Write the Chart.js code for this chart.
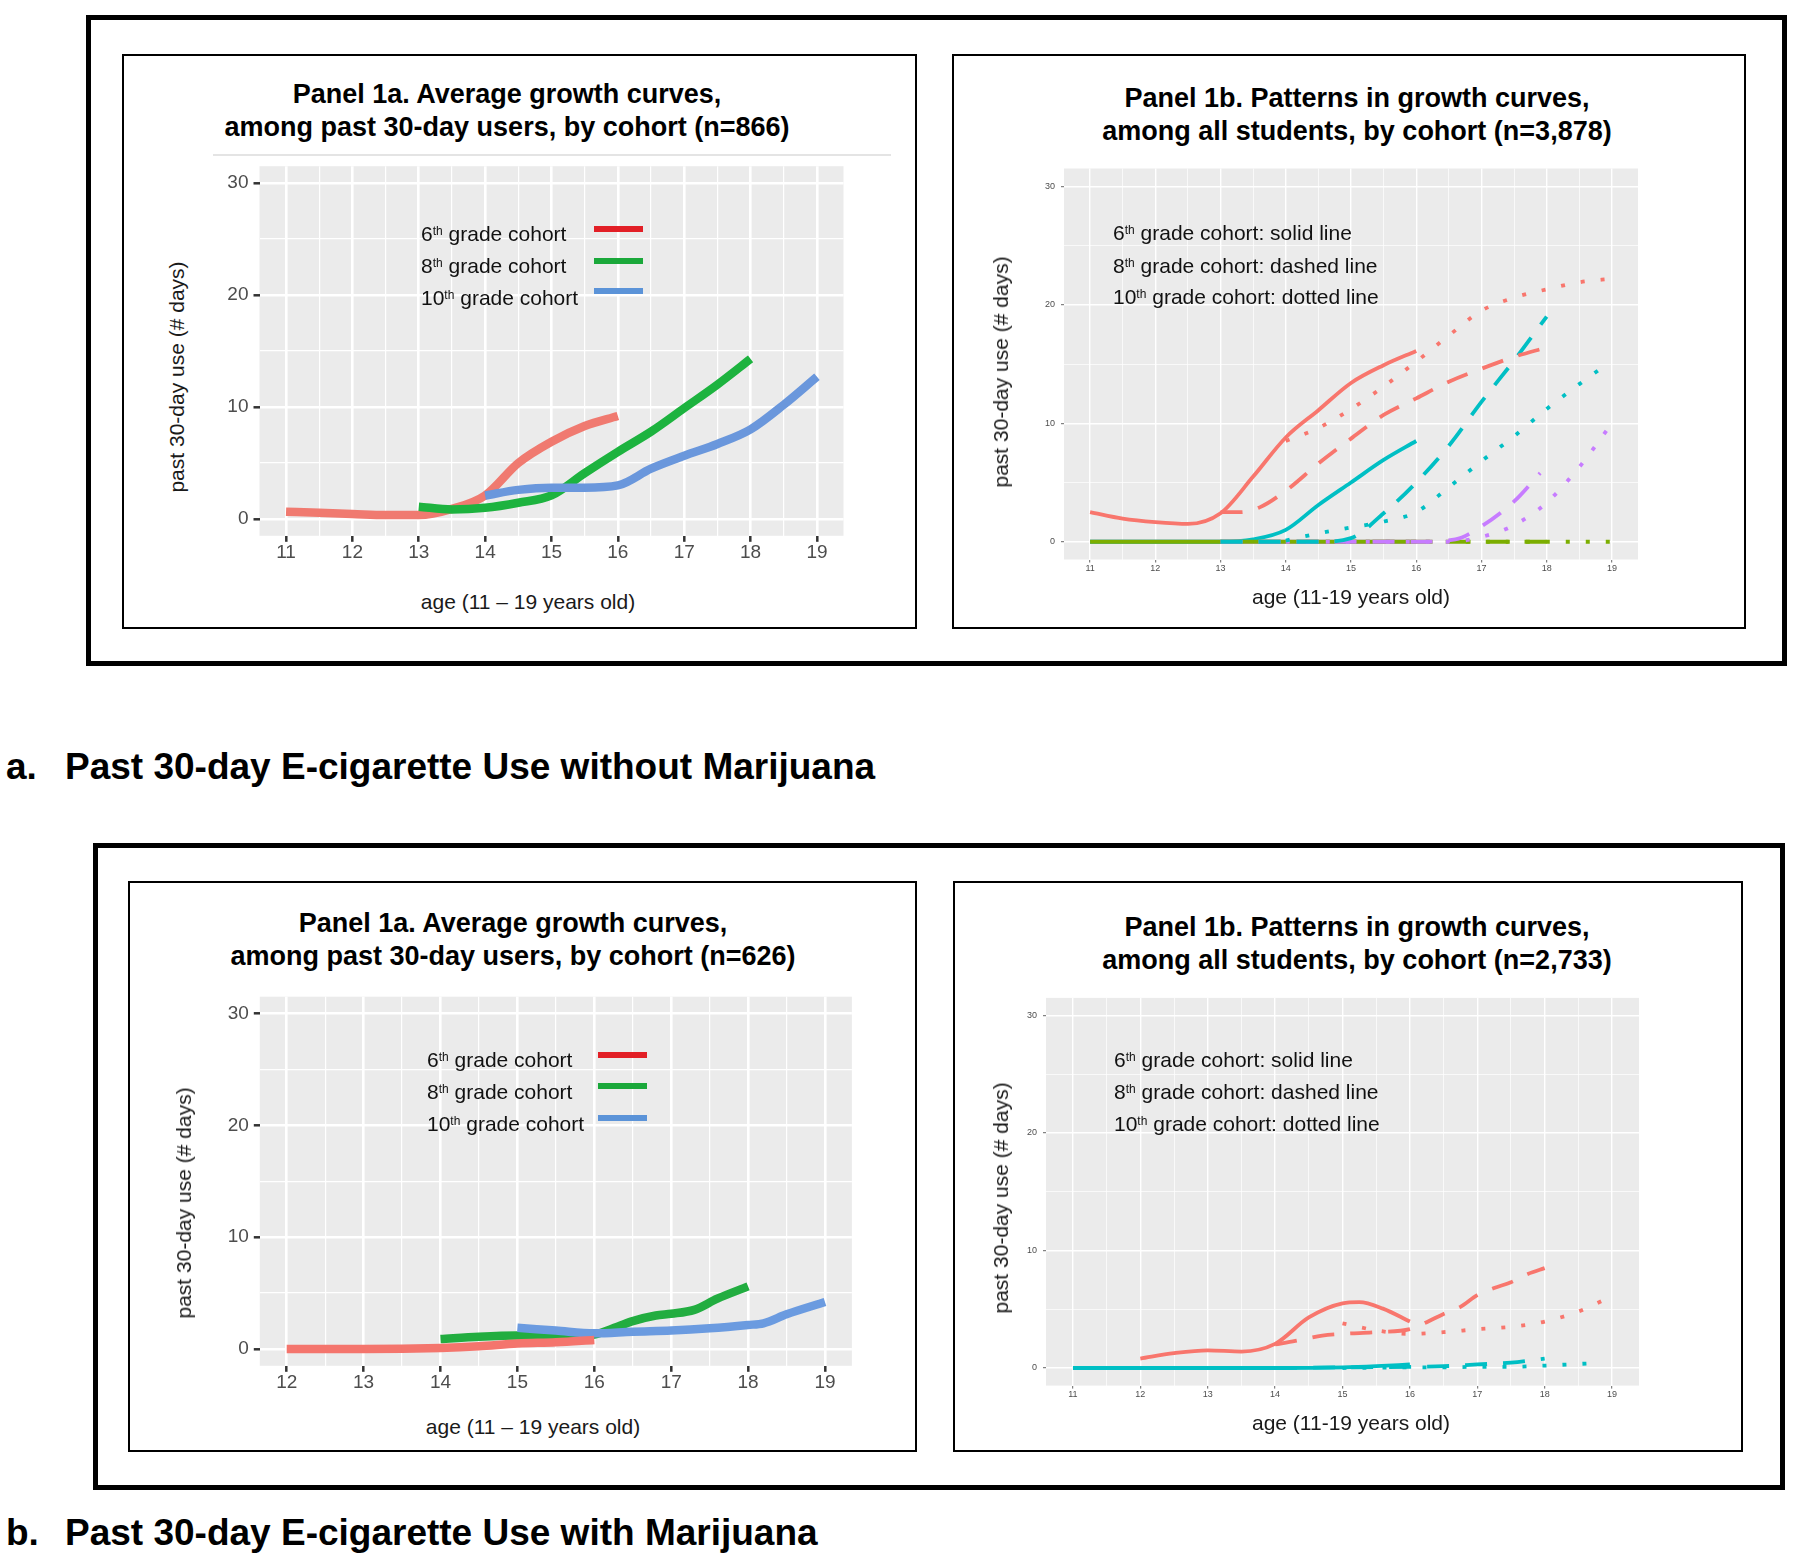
<!DOCTYPE html>
<html>
<head>
<meta charset="utf-8">
<title>Past 30-day e-cigarette use, growth curves by cohort</title>
<script src="https://cdn.jsdelivr.net/npm/chart.js@4.4.1/dist/chart.umd.min.js"></script>
<style>
  body { margin:0; width:1800px; height:1557px; position:relative; overflow:hidden; background:#fff;
         font-family:"Liberation Sans", Arial, sans-serif; color:#000; }
  .box { position:absolute; box-sizing:border-box; }
  .outer { border:5px solid #000; }
  .panel { border:2px solid #000; }
  .ptitle { position:absolute; font-weight:bold; font-size:27px; line-height:33px; text-align:center;
            white-space:nowrap; transform:translateX(-50%); }
  .ytitle { position:absolute; font-size:21px; white-space:nowrap; color:#1a1a1a;
            transform:translate(-50%,-50%) rotate(-90deg); }
  .xtitle { position:absolute; font-size:21px; white-space:nowrap; color:#1a1a1a; transform:translate(-50%,-50%); }
  .leg { position:absolute; font-size:21px; line-height:24px; white-space:nowrap; transform:translateY(-50%); color:#111; }
  .leg sup { font-size:12px; vertical-align:top; position:relative; top:-3px; }
  .sw { position:absolute; height:6px; width:49px; transform:translateY(-50%); }
  .cap { position:absolute; font-weight:bold; font-size:37px; white-space:nowrap; transform:translateY(-50%); }
  canvas { position:absolute; }
</style>
</head>
<body>

<!-- frames -->
<div class="box outer" style="left:86px;top:15px;width:1701px;height:651px"></div>
<div class="box panel" style="left:122px;top:54px;width:795px;height:575px"></div>
<div class="box panel" style="left:952px;top:54px;width:794px;height:575px"></div>
<div class="box outer" style="left:93px;top:843px;width:1692px;height:647px"></div>
<div class="box panel" style="left:128px;top:881px;width:789px;height:571px"></div>
<div class="box panel" style="left:953px;top:881px;width:790px;height:571px"></div>
<div class="box" style="left:213px;top:154px;width:678px;height:2px;background:#e4e4e4"></div>

<canvas id="chartA1"></canvas>
<canvas id="chartA2"></canvas>
<canvas id="chartB1"></canvas>
<canvas id="chartB2"></canvas>

<!-- panel titles -->
<div class="ptitle" style="left:507px;top:78px">Panel 1a. Average growth curves,<br>among past 30-day users, by cohort (n=866)</div>
<div class="ptitle" style="left:1357px;top:82px">Panel 1b. Patterns in growth curves,<br>among all students, by cohort (n=3,878)</div>
<div class="ptitle" style="left:513px;top:907px">Panel 1a. Average growth curves,<br>among past 30-day users, by cohort (n=626)</div>
<div class="ptitle" style="left:1357px;top:911px">Panel 1b. Patterns in growth curves,<br>among all students, by cohort (n=2,733)</div>

<!-- axis titles -->
<div class="ytitle" style="left:177px;top:377px">past 30-day use (# days)</div>
<div class="xtitle" style="left:528px;top:602px">age (11 – 19 years old)</div>
<div class="ytitle" style="left:1001px;top:372px">past 30-day use (# days)</div>
<div class="xtitle" style="left:1351px;top:597px">age (11-19 years old)</div>
<div class="ytitle" style="left:184px;top:1203px">past 30-day use (# days)</div>
<div class="xtitle" style="left:533px;top:1427px">age (11 – 19 years old)</div>
<div class="ytitle" style="left:1001px;top:1198px">past 30-day use (# days)</div>
<div class="xtitle" style="left:1351px;top:1423px">age (11-19 years old)</div>

<!-- legends, panel 1a -->
<div class="leg" style="left:421px;top:234px">6<sup>th</sup> grade cohort</div>
<div class="leg" style="left:421px;top:266px">8<sup>th</sup> grade cohort</div>
<div class="leg" style="left:421px;top:298px">10<sup>th</sup> grade cohort</div>
<div class="sw" style="left:594px;top:229px;background:#e21f26"></div>
<div class="sw" style="left:594px;top:261px;background:#1aa83a"></div>
<div class="sw" style="left:594px;top:291px;background:#5b93d8"></div>

<div class="leg" style="left:427px;top:1060px">6<sup>th</sup> grade cohort</div>
<div class="leg" style="left:427px;top:1092px">8<sup>th</sup> grade cohort</div>
<div class="leg" style="left:427px;top:1124px">10<sup>th</sup> grade cohort</div>
<div class="sw" style="left:598px;top:1055px;background:#e21f26"></div>
<div class="sw" style="left:598px;top:1086px;background:#1aa83a"></div>
<div class="sw" style="left:598px;top:1118px;background:#5b93d8"></div>

<!-- line type notes, panel 1b -->
<div class="leg" style="left:1113px;top:233px">6<sup>th</sup> grade cohort: solid line</div>
<div class="leg" style="left:1113px;top:266px">8<sup>th</sup> grade cohort: dashed line</div>
<div class="leg" style="left:1113px;top:297px">10<sup>th</sup> grade cohort: dotted line</div>
<div class="leg" style="left:1114px;top:1060px">6<sup>th</sup> grade cohort: solid line</div>
<div class="leg" style="left:1114px;top:1092px">8<sup>th</sup> grade cohort: dashed line</div>
<div class="leg" style="left:1114px;top:1124px">10<sup>th</sup> grade cohort: dotted line</div>

<!-- captions -->
<div class="cap" style="left:6px;top:767px">a.</div>
<div class="cap" style="left:65px;top:767px">Past 30-day E-cigarette Use without Marijuana</div>
<div class="cap" style="left:6px;top:1533px">b.</div>
<div class="cap" style="left:65px;top:1533px">Past 30-day E-cigarette Use with Marijuana</div>

<script>
// axis breaks
const yRange = [-1.5, 31.5];
const yMajor = [0, 10, 20, 30];
const yMinor = [5, 15, 25];
const xRangeFull = [10.6, 19.4];
const xMajorFull = [11, 12, 13, 14, 15, 16, 17, 18, 19];
const xMinorFull = [11.5, 12.5, 13.5, 14.5, 15.5, 16.5, 17.5, 18.5];
const xRangeB1 = [11.65, 19.35];
const xMajorB1 = [12, 13, 14, 15, 16, 17, 18, 19];
const xMinorB1 = [12.5, 13.5, 14.5, 15.5, 16.5, 17.5, 18.5];

// a. without marijuana - panel 1a (past 30-day users)
const a1Age6 = [11, 11.5, 12, 12.5, 13, 13.5, 14, 14.5, 15, 15.5, 16];
const a1Use6 = [0.65, 0.55, 0.45, 0.35, 0.35, 0.9, 2.1, 5.0, 6.9, 8.3, 9.2];
const a1Age8 = [13, 13.5, 14, 14.5, 15, 15.5, 16, 16.5, 17, 17.5, 18];
const a1Use8 = [1.1, 0.85, 1.0, 1.45, 2.1, 4.1, 6.0, 7.8, 9.9, 12.0, 14.3];
const a1Age10 = [14, 14.5, 15, 15.5, 16, 16.5, 17, 17.5, 18, 18.5, 19];
const a1Use10 = [2.1, 2.6, 2.8, 2.8, 3.0, 4.5, 5.65, 6.7, 8.0, 10.2, 12.7];

// a. without marijuana - panel 1b (all students, pattern classes)
const a2RedAge6 = [11, 11.5, 12, 12.5, 13, 13.5, 14, 14.5, 15, 15.5, 16];
const a2RedUse6 = [2.5, 1.95, 1.65, 1.5, 2.4, 5.5, 8.8, 11.1, 13.4, 14.9, 16.1];
const a2RedAge8 = [13, 13.3, 13.6, 14, 14.5, 15, 15.5, 16, 16.5, 17, 17.5, 18];
const a2RedUse8 = [2.5, 2.5, 2.9, 4.3, 6.6, 8.7, 10.7, 12.1, 13.5, 14.6, 15.6, 16.4];
const a2RedAge10 = [14, 14.5, 15, 15.5, 16, 16.5, 17, 17.5, 18, 18.5, 19];
const a2RedUse10 = [8.5, 9.6, 11.2, 13.1, 15.2, 17.4, 19.5, 20.6, 21.3, 21.9, 22.2];
const a2CyanAge6 = [11, 12, 13, 13.5, 14, 14.5, 15, 15.5, 16];
const a2CyanUse6 = [0, 0, 0, 0.2, 1.0, 3.1, 5.0, 6.9, 8.5];
const a2CyanAge8 = [13, 14, 14.5, 15, 15.5, 16, 16.5, 17, 17.5, 18];
const a2CyanUse8 = [0, 0, 0, 0.3, 2.4, 5.0, 8.1, 11.8, 15.3, 19.0];
const a2CyanAge10 = [14, 14.5, 15, 15.5, 16, 16.5, 17, 17.5, 18, 18.5, 18.8];
const a2CyanUse10 = [0.1, 0.7, 1.2, 1.7, 2.5, 4.6, 6.8, 8.9, 11.2, 13.3, 14.5];
const a2PurpleAge6 = [11, 16];
const a2PurpleUse6 = [0, 0];
const a2PurpleAge8 = [13, 16, 16.6, 17, 17.5, 17.9];
const a2PurpleUse8 = [0, 0, 0.2, 1.3, 3.4, 5.8];
const a2PurpleAge10 = [14, 16.5, 17, 17.5, 18, 18.5, 19];
const a2PurpleUse10 = [0, 0, 0.4, 1.4, 3.3, 6.3, 10.0];
const a2GreenAge6 = [11, 16];
const a2GreenUse6 = [0, 0];
const a2GreenAge8 = [13, 18];
const a2GreenUse8 = [0, 0];
const a2GreenAge10 = [14, 19];
const a2GreenUse10 = [0, 0];

// b. with marijuana - panel 1a
const b1Age6 = [12, 13, 14, 14.5, 15, 15.5, 16];
const b1Use6 = [0, 0, 0.1, 0.25, 0.5, 0.6, 0.8];
const b1Age8 = [14, 14.5, 15, 15.5, 16, 16.3, 16.5, 16.8, 17, 17.3, 17.6, 18];
const b1Use8 = [0.9, 1.1, 1.2, 1.1, 1.3, 2.0, 2.5, 3.0, 3.15, 3.5, 4.5, 5.6];
const b1Age10 = [15, 15.5, 16, 16.5, 17, 17.5, 18, 18.2, 18.5, 19];
const b1Use10 = [1.9, 1.65, 1.4, 1.55, 1.65, 1.85, 2.15, 2.3, 3.1, 4.2];

// b. with marijuana - panel 1b
const b2RedAge6 = [12, 12.5, 13, 13.5, 14, 14.5, 15, 15.25, 15.6, 16];
const b2RedUse6 = [0.8, 1.26, 1.5, 1.4, 2.05, 4.3, 5.5, 5.6, 5.05, 3.95];
const b2RedAge8 = [14, 14.3, 14.7, 15, 15.5, 16, 16.25, 16.5, 16.75, 17, 17.25, 17.5, 17.75, 18];
const b2RedUse8 = [2.0, 2.3, 2.75, 2.9, 3.05, 3.3, 3.9, 4.6, 5.2, 6.2, 6.8, 7.3, 8.0, 8.5];
const b2RedAge10 = [15, 15.5, 16, 16.5, 17, 17.5, 18, 18.5, 18.9];
const b2RedUse10 = [3.8, 3.2, 2.9, 3.05, 3.3, 3.5, 3.95, 4.8, 5.85];
const b2CyanAge6 = [11, 12, 13, 14, 15, 15.5, 16];
const b2CyanUse6 = [0, 0, 0, 0, 0.05, 0.15, 0.3];
const b2CyanAge8 = [14, 15, 16, 16.5, 17, 17.5, 18];
const b2CyanUse8 = [0, 0.05, 0.1, 0.15, 0.3, 0.45, 0.8];
const b2CyanAge10 = [15, 16, 16.5, 17, 17.5, 18, 18.35, 18.7];
const b2CyanUse10 = [0, 0.05, 0.05, 0.1, 0.1, 0.2, 0.3, 0.4];

Chart.defaults.font.family = '"Liberation Sans", Arial, sans-serif';

const SOLID = [];
const DASHED = [22, 16];
const DOTTED = [4, 16];

// grey ggplot panel behind the grid
const plotBg = {
  id: 'plotBg',
  beforeDraw(chart) {
    const a = chart.chartArea, c = chart.ctx;
    c.save();
    c.fillStyle = '#ebebeb';
    c.fillRect(a.left, a.top, a.right - a.left, a.bottom - a.top);
    c.restore();
  }
};

function pts(xs, ys) {
  return xs.map((x, i) => ({ x: x, y: ys[i] }));
}

function curve(xs, ys, color, width, dash) {
  return {
    data: pts(xs, ys), borderColor: color, borderWidth: width, borderDash: dash,
    pointRadius: 0, fill: false, tension: 0.4, cubicInterpolationMode: 'monotone', borderCapStyle: 'butt'
  };
}

function axis(range, majors, minors, st, isX, fitSize) {
  const isMajor = v => majors.includes(v);
  return {
    type: 'linear', min: range[0], max: range[1], bounds: 'data',
    afterBuildTicks: s => { s.ticks = majors.concat(minors).sort((a, b) => a - b).map(v => ({ value: v })); },
    afterFit: s => { if (isX) s.height = fitSize; else s.width = fitSize; },
    border: { display: false },
    grid: {
      color: '#ffffff',
      lineWidth: c => (c.tick && isMajor(c.tick.value)) ? st.major : st.minor,
      drawTicks: true,
      tickLength: st.tickLen,
      tickWidth: st.tickWidth,
      tickColor: c => (c.tick && isMajor(c.tick.value)) ? st.tickColor : 'rgba(0,0,0,0)'
    },
    ticks: {
      autoSkip: false, maxRotation: 0, minRotation: 0,
      padding: isX ? st.padX : st.padY,
      color: '#4d4d4d', font: { size: st.font },
      callback: v => isMajor(v) ? String(v) : ''
    }
  };
}

function panel(id, plot, xRange, xMajor, xMinor, st, datasets) {
  const cv = document.getElementById(id);
  // margins wider than half a tick label so the layout keeps the plot box where asked
  const cl = Math.floor(plot.l) - 70, ct = Math.floor(plot.t) - 20;
  const cr = Math.ceil(plot.r) + 20, cb = Math.ceil(plot.b) + 40;
  cv.style.left = cl + 'px';
  cv.style.top = ct + 'px';
  cv.width = cr - cl;
  cv.height = cb - ct;
  return new Chart(cv, {
    type: 'line',
    data: { datasets: datasets },
    options: {
      responsive: false, animation: false, events: [],
      layout: { autoPadding: false, padding: { left: 0, top: plot.t - ct, right: cr - plot.r, bottom: 0 } },
      plugins: { legend: { display: false }, tooltip: { enabled: false } },
      scales: {
        x: axis(xRange, xMajor, xMinor, st, true, cb - plot.b),
        y: axis(yRange, yMajor, yMinor, st, false, plot.l - cl)
      }
    },
    plugins: [plotBg]
  });
}

// panel 1a look: big ticks, thick lines
const bigStyle = { major: 2.6, minor: 1.2, tickLen: 6, tickWidth: 2.5, tickColor: '#333333', font: 19, padX: 0, padY: 5 };
// panel 1b look: tiny ticks, thinner lines
const smallStyle = { major: 1.4, minor: 0.7, tickLen: 3, tickWidth: 1, tickColor: '#666666', font: 9, padX: 1, padY: 6 };

const W1 = 8.5, W2 = 3.8;

panel('chartA1', { l: 259.5, r: 843.5, t: 166.2, b: 535.8 }, xRangeFull, xMajorFull, xMinorFull, bigStyle, [
  curve(a1Age10, a1Use10, '#6a97dc', W1, SOLID),
  curve(a1Age8, a1Use8, '#1db33f', W1, SOLID),
  curve(a1Age6, a1Use6, '#f07a70', W1, SOLID)
]);

panel('chartA2', { l: 1064, r: 1638, t: 168.5, b: 559.5 }, xRangeFull, xMajorFull, xMinorFull, smallStyle, [
  curve(a2RedAge6, a2RedUse6, '#F8766D', W2, SOLID),
  curve(a2RedAge8, a2RedUse8, '#F8766D', W2, DASHED),
  curve(a2RedAge10, a2RedUse10, '#F8766D', W2, DOTTED),
  curve(a2CyanAge8, a2CyanUse8, '#00BFC4', W2, DASHED),
  curve(a2CyanAge10, a2CyanUse10, '#00BFC4', W2, DOTTED),
  curve(a2PurpleAge8, a2PurpleUse8, '#C77CFF', W2, DASHED),
  curve(a2PurpleAge10, a2PurpleUse10, '#C77CFF', W2, DOTTED),
  curve(a2GreenAge6, a2GreenUse6, '#7CAE00', W2, SOLID),
  curve(a2GreenAge8, a2GreenUse8, '#7CAE00', W2, DASHED),
  curve(a2GreenAge10, a2GreenUse10, '#7CAE00', W2, DOTTED),
  curve(a2CyanAge6, a2CyanUse6, '#00BFC4', W2, SOLID),
  curve(a2PurpleAge6, a2PurpleUse6, '#C77CFF', W2, SOLID)
]);

panel('chartB1', { l: 259.8, r: 851.9, t: 996.7, b: 1365.8 }, xRangeB1, xMajorB1, xMinorB1, bigStyle, [
  curve(b1Age6, b1Use6, '#f4756d', W1, SOLID),
  curve(b1Age10, b1Use10, '#6b9be0', W1, SOLID),
  curve(b1Age8, b1Use8, '#22ad40', W1, SOLID)
]);

panel('chartB2', { l: 1046, r: 1639, t: 997.9, b: 1385.6 }, xRangeFull, xMajorFull, xMinorFull, smallStyle, [
  curve(b2RedAge6, b2RedUse6, '#F8766D', W2, SOLID),
  curve(b2RedAge8, b2RedUse8, '#F8766D', W2, DASHED),
  curve(b2RedAge10, b2RedUse10, '#F8766D', W2, DOTTED),
  curve(b2CyanAge6, b2CyanUse6, '#00BFC4', W2, SOLID),
  curve(b2CyanAge8, b2CyanUse8, '#00BFC4', W2, DASHED),
  curve(b2CyanAge10, b2CyanUse10, '#00BFC4', W2, DOTTED)
]);
</script>
</body>
</html>
